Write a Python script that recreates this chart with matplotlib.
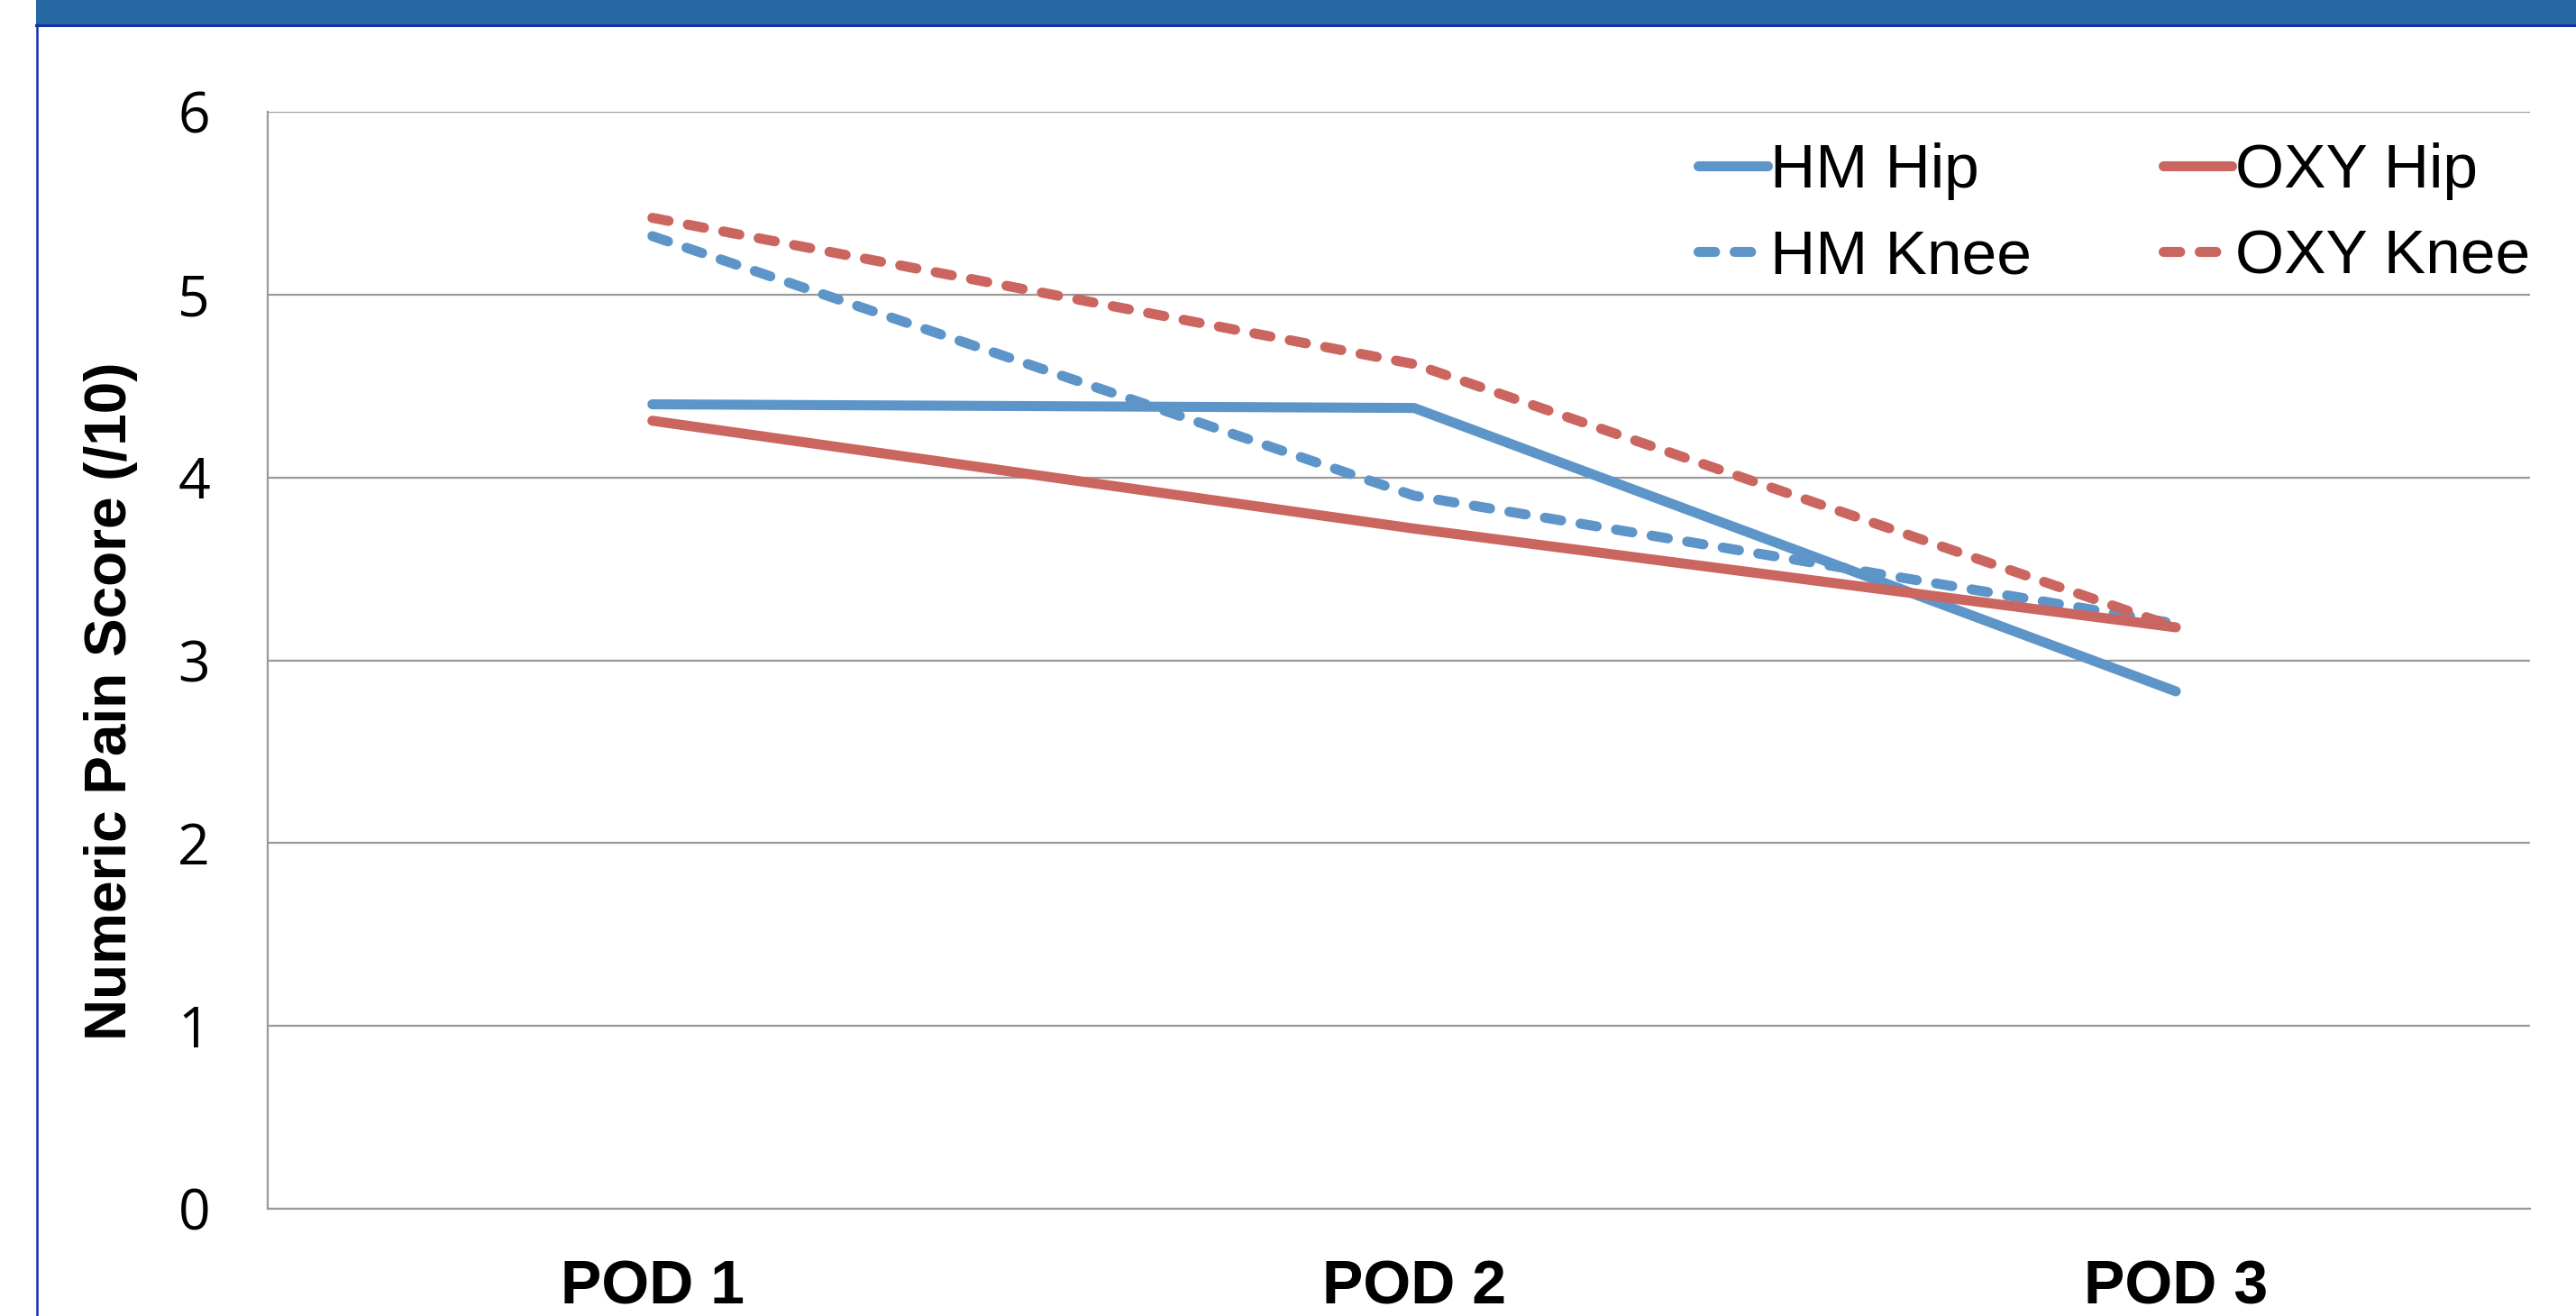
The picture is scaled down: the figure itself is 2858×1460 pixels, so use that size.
import matplotlib
matplotlib.use("Agg")
import matplotlib.pyplot as plt
from matplotlib.lines import Line2D
from matplotlib.patches import Rectangle

categories = ["POD 1", "POD 2", "POD 3"]
hm_hip = [4.40, 4.38, 2.83]
oxy_hip = [4.31, 3.72, 3.18]
hm_knee = [5.32, 3.90, 3.20]
oxy_knee = [5.42, 4.62, 3.18]
y_ticks = [0, 1, 2, 3, 4, 5, 6]
y_label = "Numeric Pain Score (/10)"

BLUE = "#5E95C9"
RED = "#CB6560"

W, H = 2858, 1460
fig = plt.figure(figsize=(W / 100, H / 100), dpi=100)
fig.patch.set_facecolor("white")

# header band and frame lines
fig.patches.append(Rectangle((40 / W, 1 - 27 / H), 1, 27 / H, transform=fig.transFigure,
                             facecolor="#2769A5", edgecolor="none", zorder=0))
fig.lines.append(Line2D([40 / W, 1], [1 - 28 / H, 1 - 28 / H], transform=fig.transFigure,
                        color="#1431AE", lw=2.2))
fig.lines.append(Line2D([40.5 / W, 40.5 / W], [0, 1 - 27 / H], transform=fig.transFigure,
                        color="#1431AE", lw=1.8))

ax = fig.add_axes([297 / W, 1 - 1341 / H, (2807 - 297) / W, (1341 - 124) / H])
x = list(range(len(categories)))

lw = 8
dash = (1.65, 1.95)
ax.plot(x, hm_hip, color=BLUE, lw=lw, solid_capstyle="round", solid_joinstyle="round", label="HM Hip", zorder=3)
ax.plot(x, hm_knee, color=BLUE, lw=lw, dashes=dash, dash_capstyle="round", dash_joinstyle="round",
        label="HM Knee", zorder=3)
ax.plot(x, oxy_hip, color=RED, lw=lw, solid_capstyle="round", solid_joinstyle="round", label="OXY Hip", zorder=3)
ax.plot(x, oxy_knee, color=RED, lw=lw, dashes=dash, dash_capstyle="round", dash_joinstyle="round",
        label="OXY Knee", zorder=3)

ax.set_xlim(-0.505, 2.465)
ax.set_ylim(0, 6)
ax.set_yticks(y_ticks)
ax.set_yticklabels([str(v) for v in y_ticks], fontfamily="Open Sans", fontsize=45)
ax.set_xticks(x)
ax.set_xticklabels(categories, fontfamily="Liberation Sans", fontweight="bold", fontsize=49)
ax.tick_params(axis="y", length=0, pad=46)
ax.tick_params(axis="x", length=0, pad=40)

ax.grid(axis="y", color="#9A9A9A", lw=1.6, zorder=1)
ax.set_axisbelow(True)
for s in ["top", "right"]:
    ax.spines[s].set_visible(False)
for s in ["left", "bottom"]:
    ax.spines[s].set_color("#9A9A9A")
    ax.spines[s].set_linewidth(1.6)

ax.set_ylabel(y_label, fontfamily="Liberation Sans", fontweight="bold", fontsize=46)
ax.yaxis.set_label_coords(-0.0574, 0.4626)

leg = ax.legend(ncol=2, loc="upper right", bbox_to_anchor=(1.0, 0.972), frameon=False,
                prop={"family": "Liberation Sans", "size": 50}, handlelength=1.1, handletextpad=0.05,
                columnspacing=2.1, borderaxespad=0, borderpad=0, labelspacing=0.45)

fig.savefig("out.png", dpi=100, facecolor="white")
